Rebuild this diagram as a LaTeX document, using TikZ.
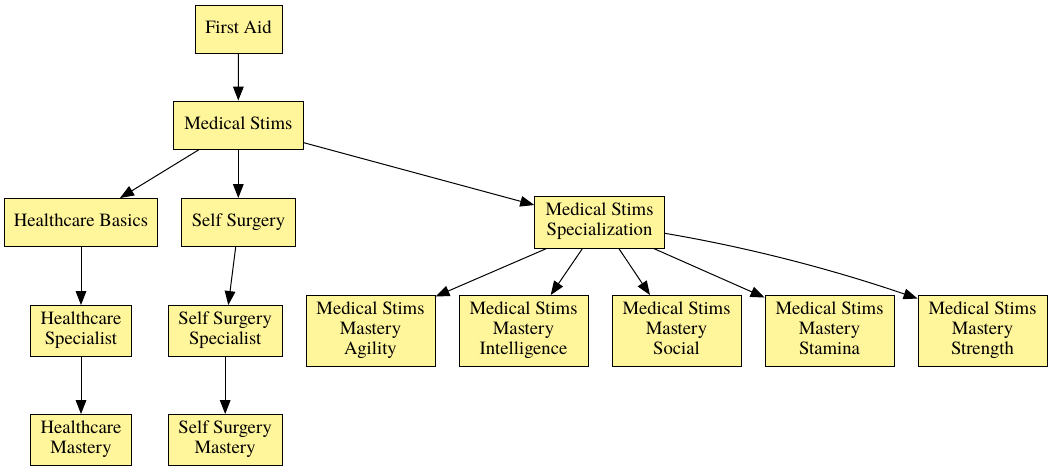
\documentclass[tikz,border=0pt]{standalone}
\usepackage{fontspec}
\setmainfont{texgyretermes-regular.otf}
\usetikzlibrary{arrows.meta,calc}
\definecolor{boxfill}{RGB}{255,245,155}
\begin{document}
\begin{tikzpicture}[x=0.75pt,y=-0.75pt,
  box/.style={draw=black,line width=0.7pt,fill=boxfill,inner sep=0pt,align=center,
    font=\rmfamily\fontsize{14pt}{15pt}\selectfont,minimum height=36pt,
    execute at begin node=\strut,execute at end node=\strut},
  two/.style={minimum height=38.25pt},
  three/.style={minimum height=53.25pt,minimum width=96.75pt},
  edge/.style={line width=0.75pt,-{Triangle[length=10.5pt,width=8pt]}}]
\useasboundingbox (0,0) rectangle (1054,471);
\node[box,minimum width=65.25pt] (fa) at (238.5,29) {First Aid};
\node[box,minimum width=97.5pt] (ms) at (238.3,125) {Medical Stims};
\node[box,minimum width=114.5pt] (hb) at (81,222.5) {Healthcare Basics};
\node[box,minimum width=85.2pt] (ss) at (238.5,222.5) {Self Surgery};
\node[box,two,minimum width=75.2pt] (hs) at (81,331) {Healthcare\\Specialist};
\node[box,two,minimum width=85.3pt] (sss) at (225.2,331) {Self Surgery\\Specialist};
\node[box,two,minimum width=75.2pt] (hm) at (81,440) {Healthcare\\Mastery};
\node[box,two,minimum width=85.3pt] (ssm) at (225.2,440) {Self Surgery\\Mastery};
\node[box,minimum width=97.2pt,minimum height=38.7pt] (spec) at (599.5,222.5) {Medical Stims\\Specialization};
\node[box,three] (agi) at (370.5,331) {Medical Stims\\Mastery\\Agility};
\node[box,three] (int) at (523.5,331) {Medical Stims\\Mastery\\Intelligence};
\node[box,three] (soc) at (676.5,331) {Medical Stims\\Mastery\\Social};
\node[box,three] (sta) at (829.5,331) {Medical Stims\\Mastery\\Stamina};
\node[box,three] (str) at (982.5,331) {Medical Stims\\Mastery\\Strength};

\draw[edge] (fa.south) -- (ms.north);
\draw[edge] ($(ms.south)+(-39,0)$) -- ($(hb.north)+(39,0)$);
\draw[edge] (ms.south) -- (ms.south|-ss.north);
\draw[edge] ($(ms.east)+(0,17.7)$) -- ($(spec.west)+(0,-17.5)$);
\draw[edge] (hb.south) -- (hs.north);
\draw[edge] ($(ss.south)+(-2.8,0)$) -- ($(sss.north)+(3.1,0)$);
\draw[edge] (hs.south) -- (hm.north);
\draw[edge] (sss.south) -- (ssm.north);
\draw[edge] ($(spec.south)+(-53.5,0)$) -- ($(agi.north east)+(0,1.5)$);
\draw[edge] ($(spec.south)+(-17.2,0)$) -- ($(int.north)+(27.2,0)$);
\draw[edge] ($(spec.south)+(19.5,0)$) -- ($(soc.north)+(-26.5,0)$);
\draw[edge] ($(spec.south)+(54.8,0)$) -- ($(sta.north west)+(0,2.5)$);
\draw[edge] ($(spec.east)+(0,10.8)$) .. controls (749.3,247.6) and (833.3,269.7) .. ($(str.north west)+(0,3.5)$);
\end{tikzpicture}
\end{document}
